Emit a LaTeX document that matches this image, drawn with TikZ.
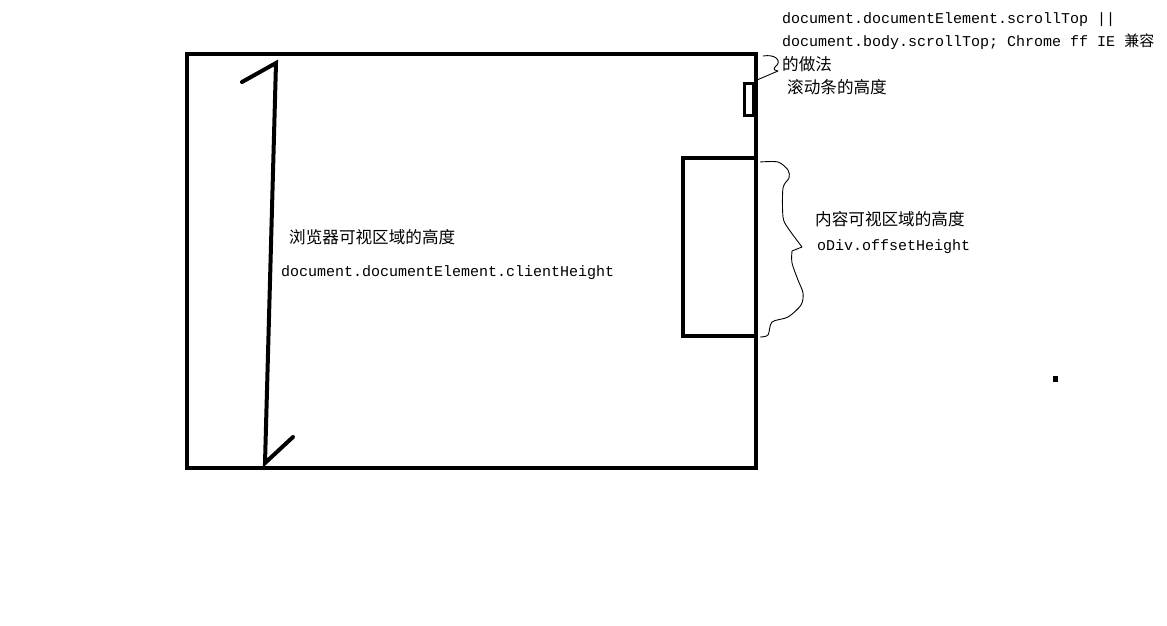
\documentclass[tikz,border=0pt]{standalone}
\usepackage{fontspec}
\setmonofont{Liberation Mono}
\newfontfamily\cjk{Noto Sans CJK SC}
\usetikzlibrary{positioning, calc}

\tikzset{
  boxline/.style={line width=4pt},
  monotext/.style={anchor=west, inner sep=0pt, font=\fontsize{15}{17}\selectfont\ttfamily},
  cjktext/.style={anchor=west, inner sep=0pt, font=\fontsize{16.6}{18}\selectfont\cjk},
  brace/.style={line width=0.9pt, line join=round}
}

\begin{document}
\begin{tikzpicture}[x=1pt, y=-1pt]
  \useasboundingbox (0,0) rectangle (1167,625);
  % Browser window
  \draw[boxline] (187,54) rectangle (756,468);
  % Scrollbar thumb and content div
  \draw[line width=3pt] (744,83) rectangle (753,115);
  \draw[boxline] (683,158) rectangle (756,336);

  % Height marker
  \coordinate (top) at (276,63);
  \coordinate (bottom) at (265,463);
  \draw[boxline, line cap=round] (242,82) -- (top) -- (bottom) -- (293,437);

  \node[cjktext] (clientlabel) at (289,237) {浏览器可视区域的高度};
  \node[monotext] (clientcode) at (281,273) {document.documentElement.clientHeight};

  % Scroll top notes
  \node[monotext] (scrollone) at (782,20) {document.documentElement.scrollTop ||};
  \node[monotext] (scrolltwo) at (782,42) {document.body.scrollTop; Chrome ff IE {\cjk 兼容}};
  \node[cjktext] (scrollthree) at (782,64) {的做法};
  \node[cjktext] (scrolllabel) at (787,87) {滚动条的高度};
  \draw[brace] (763,56) .. controls (775,54) and (781,60) .. (777,65)
    .. controls (774,68) and (772,70) .. (778,71) -- (757,80);

  % Content height notes
  \draw[brace] plot[smooth, tension=0.5] coordinates {(760,162) (778,162) (788,170)
    (789,178) (783,188) (783,217) (788,228) (802,247)} -- (792,251)
    plot[smooth, tension=0.5] coordinates {(792,251) (792,263) (798,280) (803,293)
    (801,305) (788,317) (772,322) (768,335) (760,337)};
  \node[cjktext] (offsetlabel) at (815,219) {内容可视区域的高度};
  \node[monotext] (offsetcode) at (817,247) {oDiv.offsetHeight};

  % Stray dot
  \fill (1053,376) rectangle (1058,382);
\end{tikzpicture}
\end{document}
